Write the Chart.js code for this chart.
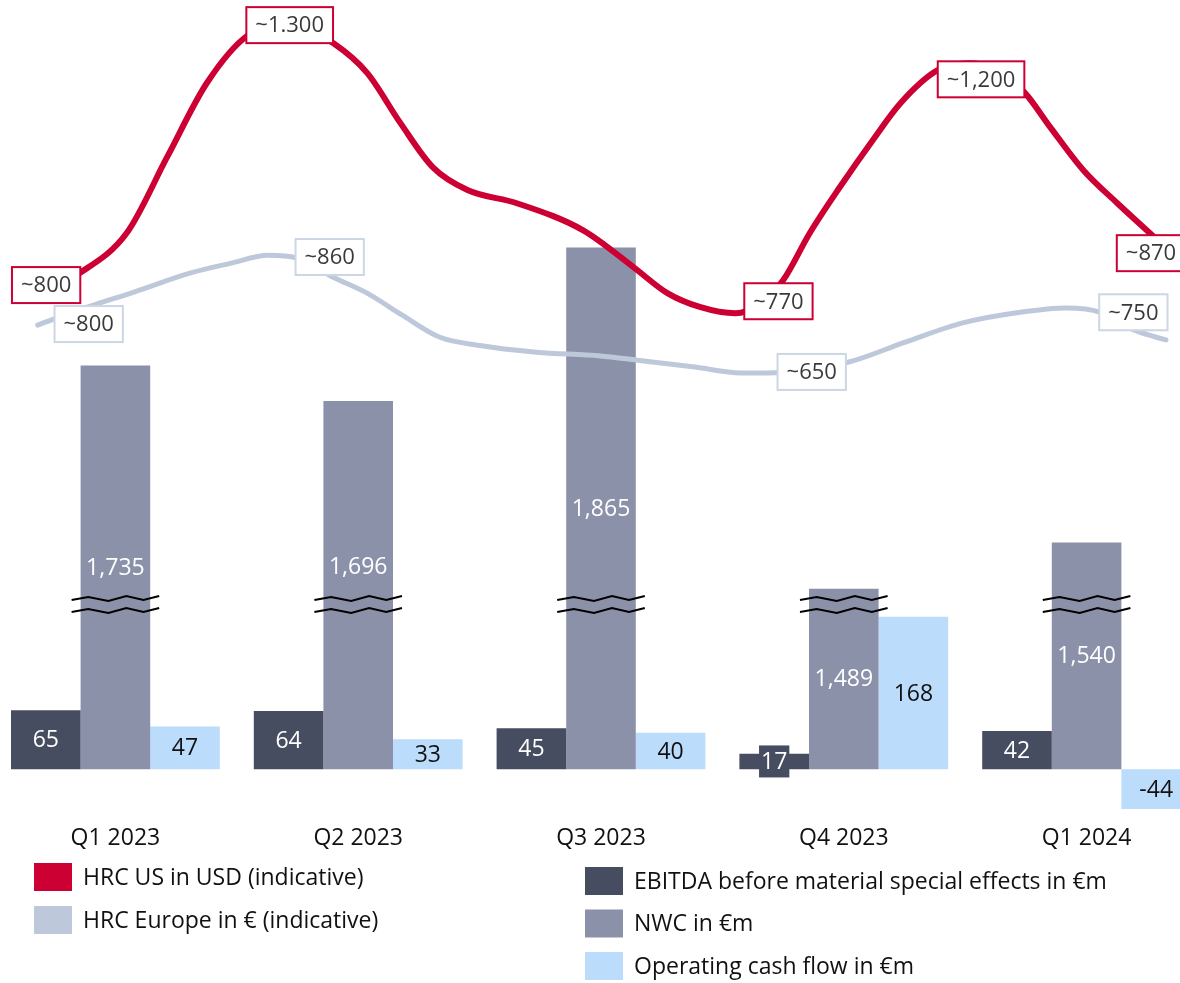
<!DOCTYPE html>
<html>
<head>
<meta charset="utf-8">
<title>HRC prices, EBITDA, NWC and operating cash flow</title>
<script src="https://cdn.jsdelivr.net/npm/chart.js@4.4.1/dist/chart.umd.min.js"></script>
<style>
  html, body { margin: 0; padding: 0; background: #fff; overflow: hidden; }
  #wrap { position: absolute; left: -6px; top: 0; width: 1214px; height: 983px; }
</style>
</head>
<body>
<div id="wrap"><canvas id="chart"></canvas></div>
<script>
const quarters = ['Q1 2023', 'Q2 2023', 'Q3 2023', 'Q4 2023', 'Q1 2024'];
const ebitda = [65, 64, 45, 17, 42];
const nwc = [1735, 1696, 1865, 1489, 1540];
const opCashFlow = [47, 33, 40, 168, -44];

// HRC price curves (x = months since Jan 2023)
const usMonths = [0.57, 1.06, 1.64, 2.14, 2.63, 3.14, 3.53, 3.91, 4.19, 4.61, 5.02, 5.42, 5.85, 6.46, 7.28, 7.90, 8.32,
                  8.72, 9.16, 9.47, 9.75, 10.08, 10.45, 10.86, 11.20, 11.66, 12.06, 12.43, 12.74, 13.05, 13.46, 13.88, 14.28, 14.53];
const usPrices = [802, 838, 913, 1056, 1195, 1285, 1300, 1291, 1270, 1214, 1120, 1037, 994, 969, 918, 849, 800,
                  774, 762, 781, 824, 913, 999, 1088, 1157, 1219, 1232, 1215, 1176, 1112, 1031, 969, 913, 877];
const euMonths = [0.54, 1.16, 1.73, 2.43, 2.92, 3.39, 3.74, 4.19, 4.61, 5.04, 5.51, 5.98, 6.70, 7.49, 7.95, 8.66, 9.23,
                  9.56, 10.55, 11.26, 11.97, 12.68, 13.25, 13.67, 14.10, 14.48];
const euPrices = [740, 774, 802, 838, 856, 871, 866, 830, 800, 759, 717, 702, 689, 682, 674, 661, 650,
                  650, 670, 708, 744, 764, 772, 764, 730, 712];

const usLabels = ['~800', '~1.300', '~770', '~1,200', '~870'];
const usLabelAt = [0, 6, 19, 26, 33];
const euLabels = ['~800', '~860', '~650', '~750'];
const euLabelAt = [0, 6, 17, 23];

// axis break for the NWC bars
const NWC_CUT = 1290;
const BREAK_AT = 182;

const FONT = '"Open Sans", "Noto Sans", sans-serif';
Chart.defaults.font.family = FONT;

const RED = '#cc0033';
const EU = '#bdc9da';
const C_EBITDA = '#474d60';
const C_NWC = '#8c91aa';
const C_OCF = '#bbdcfb';

const usOffsets = [[6, -7], [10, -2], [18, -2], [11, 16], [-19, 1]];
const euOffsets = [[51, -1], [33, -1], [44, -1], [33, 0]];

// months -> position on the quarter axis (quarter i is centred on i)
const toQuarterPos = m => m / 3 - 0.5;

const barLabels = {
    id: 'barLabels',
    afterDatasetsDraw(chart) {
        const ctx = chart.ctx;
        const yBreak = chart.scales.y.getPixelForValue(BREAK_AT);
        ctx.save();
        ctx.font = '23px ' + FONT;
        ctx.textAlign = 'center';
        ctx.textBaseline = 'middle';
        chart.data.datasets.forEach((ds, i) => {
            if (ds.type !== 'bar') return;
            chart.getDatasetMeta(i).data.forEach((bar, j) => {
                const txt = ds.data[j].y.toLocaleString('en-US');
                let cy = (bar.y + bar.base) / 2;
                // keep labels clear of the break marks
                if (ds.base !== undefined && cy > yBreak - 36 && cy < yBreak + 30) cy = yBreak - 38;
                if (ds.boxedLabel) {
                    const w = ctx.measureText(txt).width + 4;
                    ctx.fillStyle = ds.backgroundColor;
                    ctx.fillRect(bar.x - w / 2, cy - 16, w, 32);
                }
                ctx.fillStyle = ds.labelColor;
                ctx.fillText(txt, bar.x, cy + 1);
            });
        });
        ctx.restore();
    }
};

const axisBreak = {
    id: 'axisBreak',
    afterDatasetsDraw(chart) {
        const ctx = chart.ctx;
        const yMid = chart.scales.y.getPixelForValue(BREAK_AT);
        const fx = [-1, -0.62, -0.16, 0.25, 0.64, 1];
        const fy = [2, -1, 3, -2, 2, -2];
        const idx = chart.data.datasets.findIndex(d => d.label === 'NWC in €m');
        ctx.save();
        ctx.strokeStyle = '#000';
        ctx.lineWidth = 2;
        chart.getDatasetMeta(idx).data.forEach(bar => {
            const half = bar.width / 2 + 9;
            [-6, 6].forEach(off => {
                ctx.beginPath();
                fx.forEach((f, k) => {
                    const px = bar.x + f * half;
                    const py = yMid + off + fy[k];
                    if (k === 0) ctx.moveTo(px, py); else ctx.lineTo(px, py);
                });
                ctx.stroke();
            });
        });
        ctx.restore();
    }
};

const lineTags = {
    id: 'lineTags',
    afterDraw(chart) {
        const ctx = chart.ctx;
        ctx.save();
        ctx.font = '22px ' + FONT;
        ctx.textAlign = 'center';
        ctx.textBaseline = 'middle';
        chart.data.datasets.forEach((ds, i) => {
            if (!ds.tags) return;
            const pts = chart.getDatasetMeta(i).data;
            ds.tags.forEach(t => {
                const p = pts[t.idx];
                const cx = p.x + t.dx, cy = p.y + t.dy;
                const w = ctx.measureText(t.text).width + 18;
                const h = 36;
                ctx.fillStyle = '#fff';
                ctx.fillRect(cx - w / 2, cy - h / 2, w, h);
                ctx.strokeStyle = ds.tagBorder;
                ctx.lineWidth = 2;
                ctx.strokeRect(cx - w / 2, cy - h / 2, w, h);
                ctx.fillStyle = '#3a3a3a';
                ctx.fillText(t.text, cx, cy + 1);
            });
        });
        ctx.restore();
    }
};

const sideLegend = {
    id: 'sideLegend',
    afterDraw(chart, args, opts) {
        const ctx = chart.ctx;
        ctx.save();
        ctx.font = '23px ' + FONT;
        ctx.textAlign = 'left';
        ctx.textBaseline = 'middle';
        opts.columns.forEach(col => {
            col.items.forEach((dsIndex, k) => {
                const ds = chart.data.datasets[dsIndex];
                const top = col.y + k * col.step;
                ctx.fillStyle = ds.type === 'line' ? ds.borderColor : ds.backgroundColor;
                ctx.fillRect(col.x, top, 38, 28);
                ctx.fillStyle = '#111';
                ctx.fillText(ds.label, col.x + 49, top + 15);
            });
        });
        ctx.restore();
    }
};

const tagsFor = (texts, at, offsets) => texts.map((text, k) => ({ text, idx: at[k], dx: offsets[k][0], dy: offsets[k][1] }));
const barPoints = values => values.map((v, i) => ({ x: i, y: v }));

new Chart(document.getElementById('chart'), {
    data: {
        datasets: [
            {
                type: 'bar',
                label: 'EBITDA before material special effects in €m',
                data: barPoints(ebitda),
                yAxisID: 'y',
                backgroundColor: C_EBITDA,
                categoryPercentage: 0.86,
                barPercentage: 1,
                order: 2,
                labelColor: '#fff',
                boxedLabel: true
            },
            {
                type: 'bar',
                label: 'NWC in €m',
                data: barPoints(nwc),
                yAxisID: 'yN',
                base: NWC_CUT,
                backgroundColor: C_NWC,
                categoryPercentage: 0.86,
                barPercentage: 1,
                order: 2,
                labelColor: '#fff'
            },
            {
                type: 'bar',
                label: 'Operating cash flow in €m',
                data: barPoints(opCashFlow),
                yAxisID: 'y',
                backgroundColor: C_OCF,
                categoryPercentage: 0.86,
                barPercentage: 1,
                order: 2,
                labelColor: '#111'
            },
            {
                type: 'line',
                label: 'HRC US in USD (indicative)',
                data: usMonths.map((m, k) => ({ x: toQuarterPos(m), y: usPrices[k] })),
                yAxisID: 'yp',
                borderColor: RED,
                borderWidth: 6,
                borderCapStyle: 'round',
                cubicInterpolationMode: 'monotone',
                pointRadius: 0,
                order: 1,
                tags: tagsFor(usLabels, usLabelAt, usOffsets),
                tagBorder: RED
            },
            {
                type: 'line',
                label: 'HRC Europe in € (indicative)',
                data: euMonths.map((m, k) => ({ x: toQuarterPos(m), y: euPrices[k] })),
                yAxisID: 'yp',
                borderColor: EU,
                borderWidth: 5,
                borderCapStyle: 'round',
                cubicInterpolationMode: 'monotone',
                pointRadius: 0,
                order: 1,
                tags: tagsFor(euLabels, euLabelAt, euOffsets),
                tagBorder: '#cdd6e4'
            }
        ]
    },
    options: {
        responsive: true,
        maintainAspectRatio: false,
        animation: false,
        events: [],
        layout: { padding: { top: 0, left: 0, right: 0, bottom: 128.5 } },
        plugins: {
            legend: { display: false },
            tooltip: { enabled: false },
            sideLegend: {
                columns: [
                    { x: 40, y: 863, step: 43, items: [3, 4] },
                    { x: 591, y: 867, step: 42.5, items: [0, 1, 2] }
                ]
            }
        },
        scales: {
            x: {
                type: 'linear',
                min: -0.5,
                max: 4.5,
                offset: false,
                grid: { display: false, drawTicks: false },
                border: { display: false },
                afterBuildTicks: axis => { axis.ticks = quarters.map((q, i) => ({ value: i })); },
                ticks: {
                    color: '#111',
                    font: { size: 23 },
                    padding: 10,
                    autoSkip: false,
                    maxRotation: 0,
                    callback: value => quarters[value]
                },
                afterFit: axis => { axis.height = 40; }
            },
            y: { display: false, min: -50, max: 848 },
            yN: { display: false, min: -50 + NWC_CUT, max: 848 + NWC_CUT },
            yp: { display: false, min: -180, max: 1351 }
        }
    },
    plugins: [barLabels, axisBreak, lineTags, sideLegend]
});
</script>
</body>
</html>
